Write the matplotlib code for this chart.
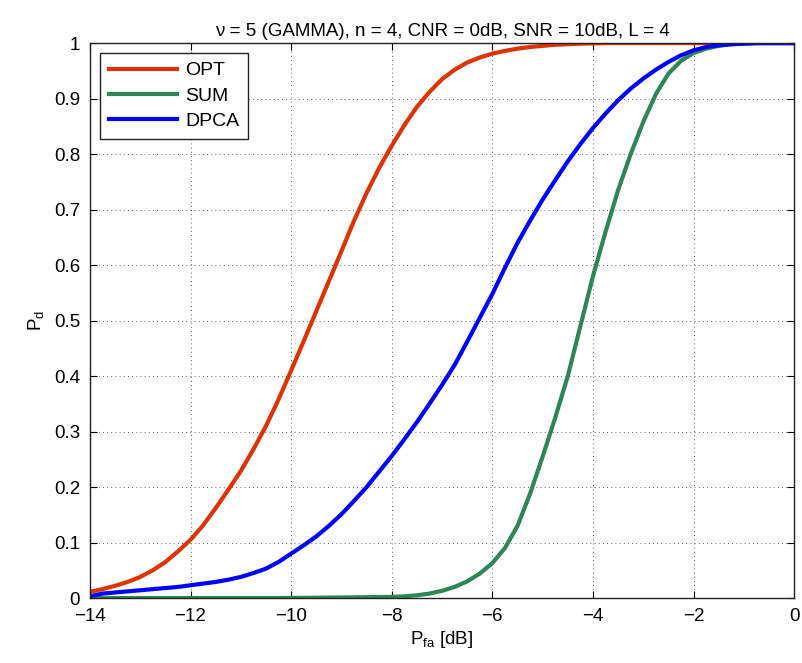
import numpy as np
import matplotlib
matplotlib.use('Agg')
import matplotlib.pyplot as plt
from matplotlib.ticker import FuncFormatter

plt.rcParams['font.family'] = ['Liberation Sans', 'DejaVu Sans']
plt.rcParams['mathtext.fontset'] = 'custom'
plt.rcParams['mathtext.rm'] = 'Liberation Sans'
plt.rcParams['mathtext.it'] = 'Liberation Sans'

# Pfa in dB, values at 0.25 dB steps
pfa_db = np.arange(-14, 0.001, 0.25)

pd_opt = [0.011, 0.016, 0.022, 0.029, 0.038, 0.05, 0.065, 0.084, 0.105, 0.131,
          0.162, 0.195, 0.229, 0.268, 0.31, 0.358, 0.41, 0.463, 0.517, 0.571,
          0.625, 0.68, 0.73, 0.775, 0.815, 0.852, 0.885, 0.912, 0.935, 0.952,
          0.965, 0.974, 0.981, 0.986, 0.99, 0.993, 0.995, 0.997, 0.998, 0.999,
          0.9995, 1.0, 1.0, 1.0, 1.0, 1.0, 1.0, 1.0, 1.0, 1.0,
          1.0, 1.0, 1.0, 1.0, 1.0, 1.0, 1.0]
pd_sum = [0.0, 0.0, 0.0, 0.0, 0.0, 0.0, 0.0, 0.0, 0.0, 0.0,
          0.0, 0.0, 0.0, 0.0, 0.0, 0.0, 0.0002, 0.0004, 0.0006, 0.0008,
          0.001, 0.0012, 0.0015, 0.0018, 0.002, 0.003, 0.005, 0.008, 0.013, 0.02,
          0.03, 0.044, 0.063, 0.09, 0.13, 0.188, 0.255, 0.325, 0.40, 0.49,
          0.58, 0.66, 0.735, 0.80, 0.858, 0.908, 0.945, 0.968, 0.982, 0.99,
          0.995, 0.998, 0.999, 1.0, 1.0, 1.0, 1.0]
pd_dpca = [0.003, 0.008, 0.01, 0.012, 0.014, 0.016, 0.018, 0.02, 0.023, 0.026,
           0.029, 0.033, 0.038, 0.045, 0.053, 0.065, 0.08, 0.095, 0.111, 0.13,
           0.151, 0.175, 0.2, 0.228, 0.256, 0.286, 0.317, 0.35, 0.384, 0.42,
           0.462, 0.505, 0.548, 0.595, 0.64, 0.68, 0.718, 0.753, 0.787, 0.818,
           0.847, 0.873, 0.897, 0.918, 0.936, 0.952, 0.966, 0.978, 0.987, 0.993,
           0.996, 0.998, 0.999, 1.0, 1.0, 1.0, 1.0]

labels = ['OPT', 'SUM', 'DPCA']
colors = ['#dd3300', '#2e8555', '#0000ff']

fig = plt.figure(figsize=(8.03, 6.63), dpi=100)
ax = fig.add_axes([0.112, 0.098, 0.877, 0.837])

for y, lab, col in zip([pd_opt, pd_sum, pd_dpca], labels, colors):
    ax.plot(pfa_db, y, color=col, lw=3, label=lab, solid_joinstyle='round')

ax.set_xlim(-14, 0)
ax.set_ylim(0, 1)
ax.set_xticks(np.arange(-14, 1, 2))
ax.set_yticks(np.arange(0, 1.01, 0.1))
ax.yaxis.set_major_formatter(FuncFormatter(lambda v, p: ('%g' % round(v, 1))))
ax.tick_params(direction='in', top=True, right=True, length=5, width=0.8,
               labelsize=13.5, pad=7)
ax.grid(True, linestyle=(0, (1, 4)), color='k', lw=0.6, alpha=0.8)
for s in ax.spines.values():
    s.set_linewidth(1.0)
    s.set_color('#222222')

ax.set_title(u'\u03bd = 5 (GAMMA), n = 4, CNR = 0dB, SNR = 10dB, L = 4',
             fontsize=13.5, pad=5)
ax.set_xlabel(r'P$_{\mathregular{fa}}$ [dB]', fontsize=13.5, labelpad=3)
ax.set_ylabel(r'P$_{\mathregular{d}}$', fontsize=13.5, labelpad=6)

leg = ax.legend(loc='upper left', bbox_to_anchor=(0.014, 0.982), fontsize=14,
                handlelength=3.5, handletextpad=0.45, labelspacing=0.4,
                borderpad=0.45, borderaxespad=0, fancybox=False, framealpha=1)
leg.get_frame().set_edgecolor('#222222')
leg.get_frame().set_linewidth(1.0)

fig.savefig('out.png', dpi=100)
